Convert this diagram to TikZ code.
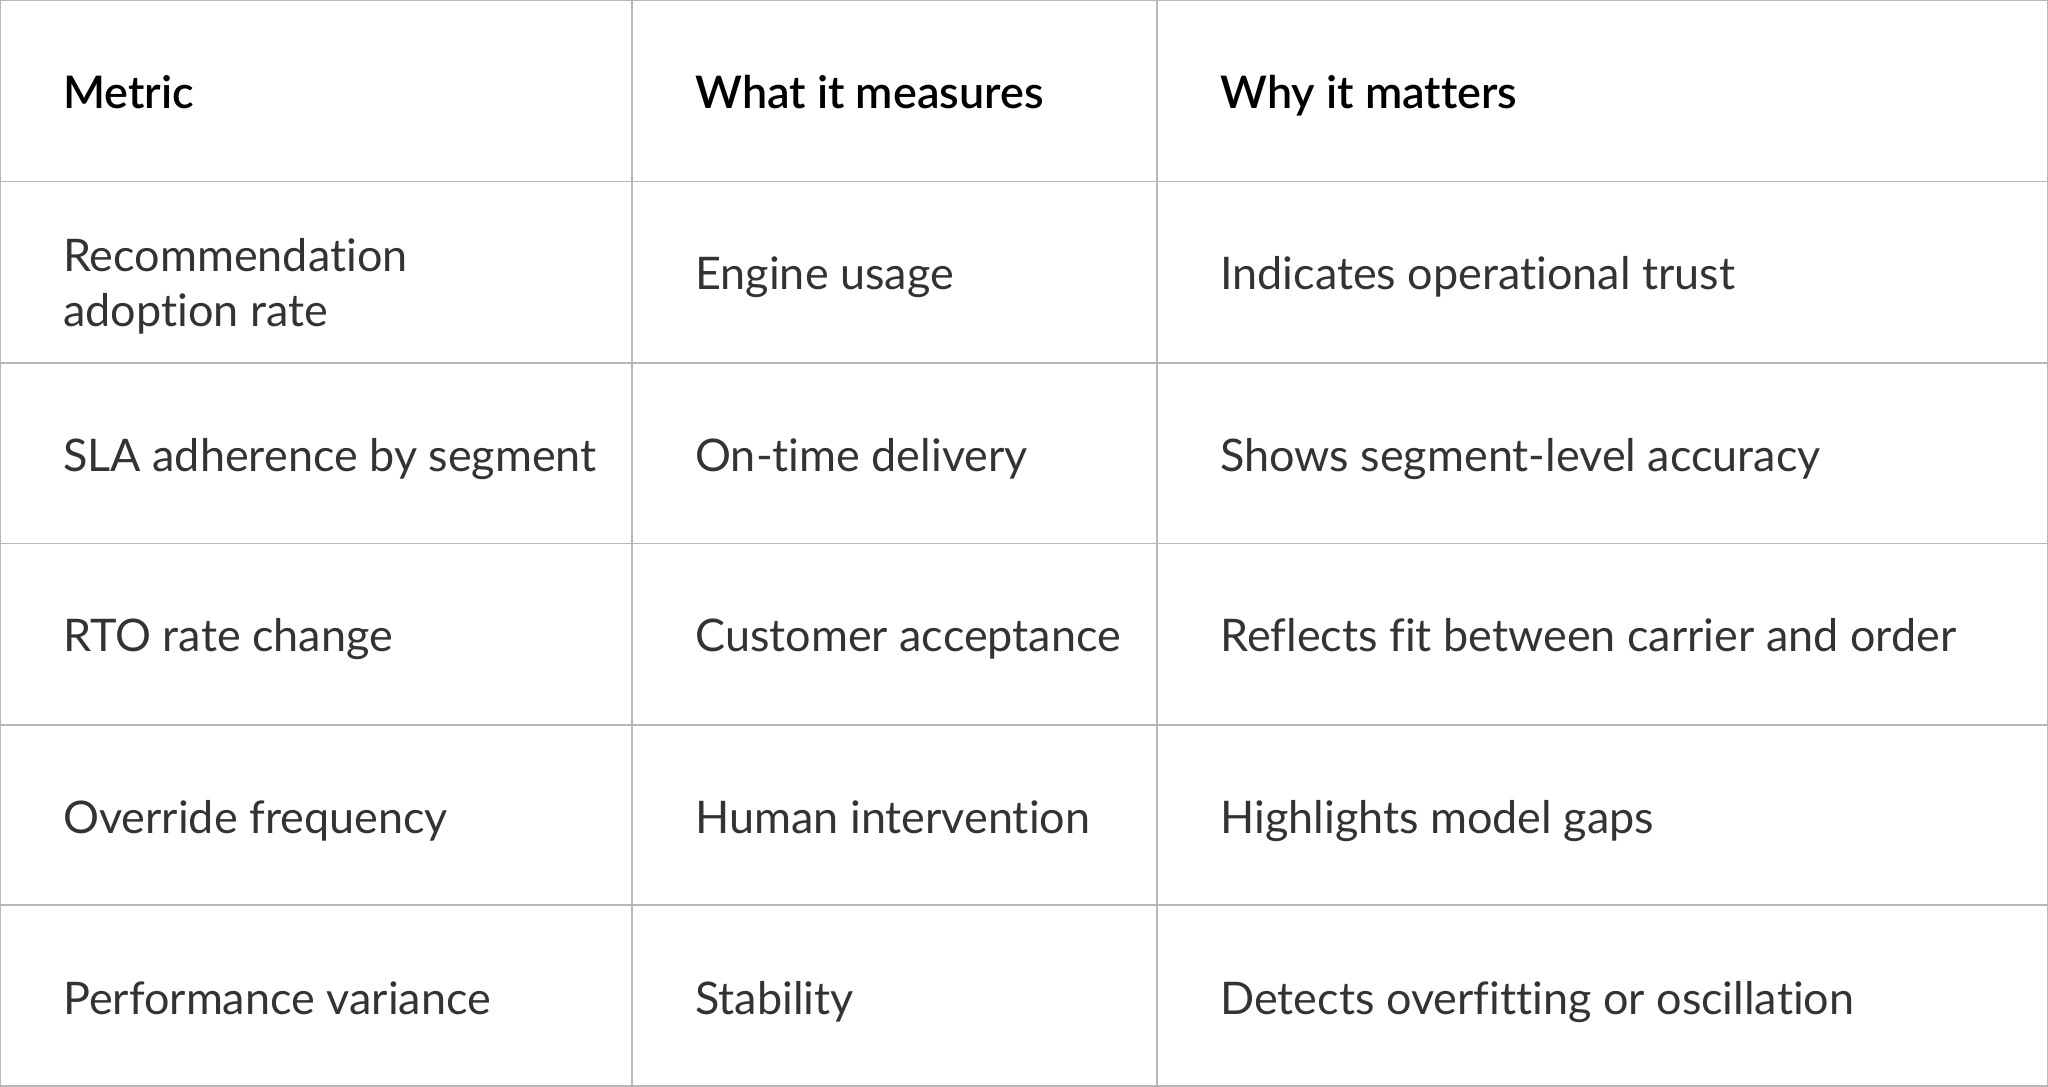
\documentclass[tikz,border=0pt]{standalone}
\usepackage{fontspec}
\setmainfont{Lato}[RawFeature=-liga]
\newfontfamily\hdr{Lato}[UprightFont=* Semibold,RawFeature=-liga]
\definecolor{grid}{HTML}{B8B8B8}
\definecolor{body}{HTML}{333333}
\begin{document}
\begin{tikzpicture}[x=0.5pt,y=-0.5pt,
  cell/.style={anchor=west,inner sep=0pt,yshift=-3.5pt,text height=9pt,text depth=3pt,font=\fontsize{17.2}{21}\selectfont,text=body,align=left},
  head/.style={anchor=west,inner sep=0pt,yshift=-3.5pt,text height=9pt,text depth=3pt,font=\hdr\fontsize{17.2}{21}\selectfont,text=black}]
\useasboundingbox (0,0) rectangle (1568,832);
\draw[grid,line width=0.6pt] (0.5,0.5) rectangle (1567.5,831.5);
\foreach \y in {139,278,416,555,693} \draw[grid,line width=0.6pt] (0,\y) -- (1568,\y);
\foreach \x in {484,886} \draw[grid,line width=0.6pt] (\x,0) -- (\x,832);
\node[head] (h1) at (48,70) {Metric};
\node[head] (h2) at (532,70) {What it measures};
\node[head] (h3) at (934,70) {Why it matters};
\node[cell,text height=,text depth=,yshift=-1.5pt] (a1) at (48,209) {Recommendation\\adoption rate};
\node[cell] (b1) at (532,209) {Engine usage};
\node[cell] (c1) at (934,209) {Indicates operational trust};
\node[cell] (a2) at (48,348) {SLA adherence by segment};
\node[cell] (b2) at (532,348) {On-time delivery};
\node[cell] (c2) at (934,348) {Shows segment-level accuracy};
\node[cell] (a3) at (48,486) {RTO rate change};
\node[cell] (b3) at (532,486) {Customer acceptance};
\node[cell] (c3) at (934,486) {Reflects f\kern0ptit between carrier and order};
\node[cell] (a4) at (48,625) {Override frequency};
\node[cell] (b4) at (532,625) {Human intervention};
\node[cell] (c4) at (934,625) {Highlights model gaps};
\node[cell] (a5) at (48,764) {Performance variance};
\node[cell] (b5) at (532,764) {Stability};
\node[cell] (c5) at (934,764) {Detects overfitting or oscillation};
\end{tikzpicture}
\end{document}
